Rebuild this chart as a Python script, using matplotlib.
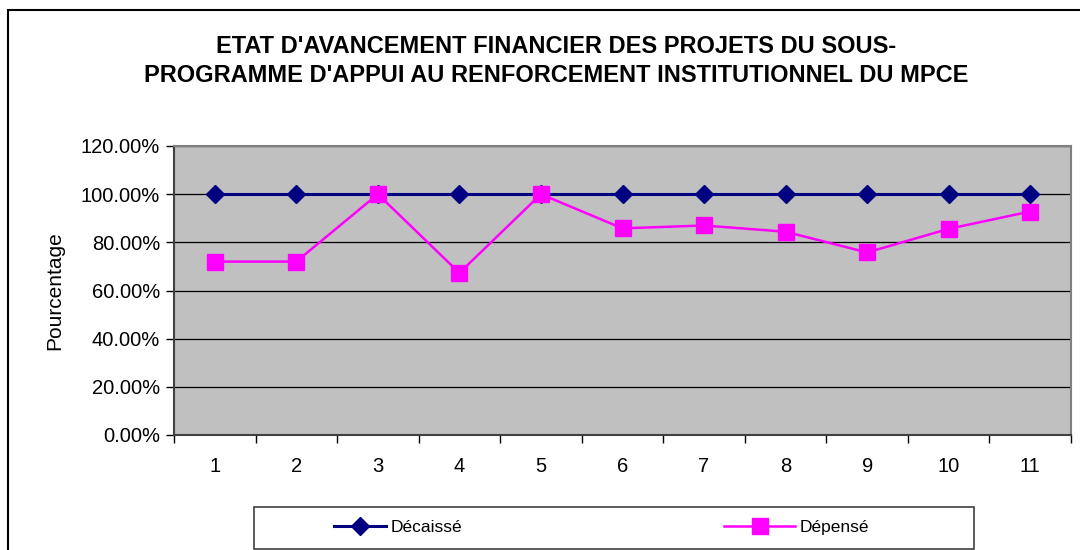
import matplotlib.pyplot as plt
from matplotlib.patches import Rectangle
from matplotlib.ticker import FuncFormatter, FixedLocator

plt.rcParams['font.family'] = ['Liberation Sans', 'DejaVu Sans']

projets = [1, 2, 3, 4, 5, 6, 7, 8, 9, 10, 11]
decaisse = [1.0, 1.0, 1.0, 1.0, 1.0, 1.0, 1.0, 1.0, 1.0, 1.0, 1.0]
depense = [0.72, 0.72, 1.0, 0.673, 1.0, 0.858, 0.87, 0.844, 0.758, 0.856, 0.928]
titre = "ETAT D'AVANCEMENT FINANCIER DES PROJETS DU SOUS-\nPROGRAMME D'APPUI AU RENFORCEMENT INSTITUTIONNEL DU MPCE"


def dessiner():
  W, H = 1080, 550
  fig = plt.figure(figsize=(W / 100, H / 100), dpi=100)

  # cadre du graphique (coupe a droite et en bas)
  fig.patches.append(Rectangle((8 / W, -0.05), 1.1, 1 - 10 / H + 0.05,
                               transform=fig.transFigure, fill=False,
                               edgecolor='black', linewidth=1.5))

  ax = fig.add_axes([174 / W, (H - 435) / H, (1071 - 174) / W, (435 - 146) / H])
  ax.set_facecolor('#C0C0C0')

  l1, = ax.plot(projets, decaisse, color='#000080', marker='D', markersize=9,
                linewidth=2.2, label='Décaissé', zorder=3)
  l2, = ax.plot(projets, depense, color='#FF00FF', marker='s', markersize=11,
                linewidth=1.8, label='Dépensé', zorder=4)

  ax.set_xlim(0.5, 11.5)
  ax.set_ylim(0, 1.2)
  ax.set_yticks([0, 0.2, 0.4, 0.6, 0.8, 1.0, 1.2])
  ax.yaxis.set_major_formatter(FuncFormatter(lambda v, p: '%.2f%%' % (v * 100)))
  ax.yaxis.grid(True, color='black', linewidth=0.9)
  ax.set_axisbelow(True)

  ax.xaxis.set_major_locator(FixedLocator([x + 0.5 for x in [0] + projets]))
  ax.xaxis.set_minor_locator(FixedLocator(projets))
  ax.set_xticklabels([])
  ax.set_xticklabels([str(p) for p in projets], minor=True)
  ax.tick_params(axis='x', which='major', direction='out', length=6, width=1)
  ax.tick_params(axis='x', which='minor', length=0, pad=16, labelsize=14.5)
  ax.tick_params(axis='y', direction='out', length=6, width=1, labelsize=14.5, pad=4)

  for s in ['top', 'right']:
    ax.spines[s].set_color('#808080')
    ax.spines[s].set_linewidth(1.5)
  for s in ['left', 'bottom']:
    ax.spines[s].set_color('#404040')
    ax.spines[s].set_linewidth(1.5)

  ax.set_ylabel('Pourcentage', fontsize=15, labelpad=12)

  fig.text(556 / W, 1 - 61 / H, titre, ha='center', va='center',
           fontsize=17, fontweight='bold', linespacing=1.38)

  # legende
  fig.patches.append(Rectangle((254 / W, 1 - 549 / H), (974 - 254) / W, 42 / H,
                               transform=fig.transFigure, fill=False,
                               edgecolor='#404040', linewidth=1.2))
  fig.legend(handles=[l1], loc='center left', frameon=False, fontsize=12.5,
             bbox_to_anchor=(334 / W, 1 - 527 / H), handlelength=3.0,
             handletextpad=0.25, borderpad=0, borderaxespad=0)
  fig.legend(handles=[l2], loc='center left', frameon=False, fontsize=12.5,
             bbox_to_anchor=(724 / W, 1 - 527 / H), handlelength=4.1,
             handletextpad=0.25, borderpad=0, borderaxespad=0)

  fig.savefig('out.png', dpi=100)


def run():
  dessiner()

run()
